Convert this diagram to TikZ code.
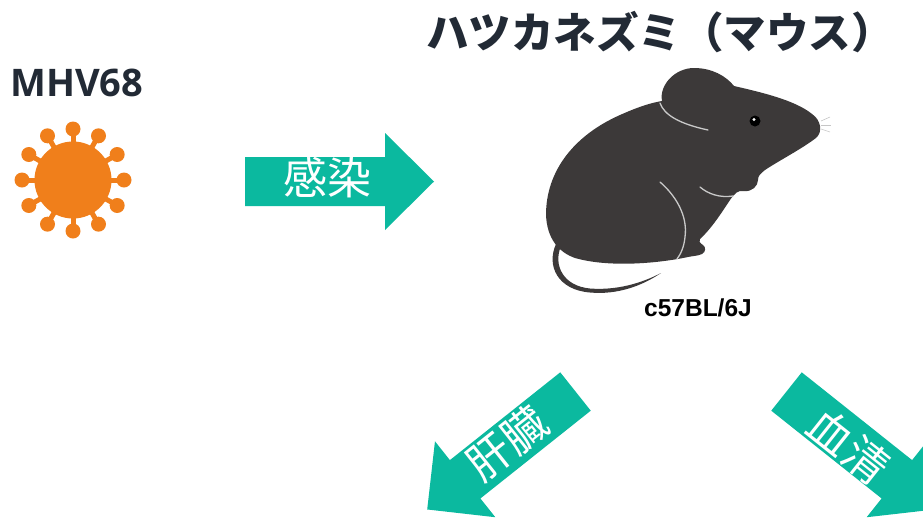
\documentclass[tikz,border=0pt]{standalone}
\usepackage{fontspec}
\setmainfont{Open Sans}
\newfontfamily\jpfont{Noto Sans CJK JP}
\newfontfamily\labelfont{Liberation Sans}
\definecolor{ink}{HTML}{222A35}
\definecolor{arrowteal}{HTML}{0BB99F}
\definecolor{virusorange}{HTML}{F07F1B}
\definecolor{fur}{HTML}{3C3939}
\definecolor{furline}{HTML}{C9C9C9}
\tikzset{
  blockarrow/.style={fill=arrowteal, draw=none},
  arrowlabel/.style={text=white, inner sep=0pt, font=\jpfont\fontsize{44}{44}\selectfont},
  furstroke/.style={draw=furline, line width=1.3pt, line cap=round},
}
\begin{document}
\begin{tikzpicture}[x=1pt,y=-1pt]
\useasboundingbox (0,0) rectangle (923,520);
\clip (0,0) rectangle (923,520);

% ---- headings ----
\node[font=\jpfont\bfseries\fontsize{42.5}{42.5}\selectfont, text=ink, inner sep=0pt] (title) at (660,32) {ハツカネズミ（マウス）};
\node[font=\bfseries\fontsize{38}{38}\selectfont, text=ink, inner sep=0pt, anchor=west] (virusname) at (10,83) {MHV68};

% ---- virus ----
\begin{scope}[shift={(73,180)}]
  \foreach \a in {0,30,...,330}{
    \draw[virusorange, line width=5pt] (\a:30) -- (\a:48);
    \fill[virusorange] (\a:51) circle (7.5);
  }
  \fill[virusorange] (0,0) circle (38.5);
\end{scope}
\coordinate (virus) at (73,180);

% ---- infection arrow ----
\fill[blockarrow] (245,157) -- (385,157) -- (385,133) -- (434,181.5)
  -- (385,230) -- (385,206) -- (245,206) -- cycle;
\node[arrowlabel] (infect) at (327.5,178) {感染};

% ---- mouse ----
% tail
\fill[fur] (556,244) .. controls (546,266) and (558,290) .. (590,292.5)
  .. controls (617,295) and (642,286) .. (661,273)
  .. controls (641,283.5) and (616,290.5) .. (590,288.5)
  .. controls (563,286) and (553,265) .. (561,246) -- cycle;
% body
\fill[fur] (662,101)
  .. controls (659,85) and (675,68) .. (694,68)
  .. controls (712,68) and (726,76) .. (734,86)
  .. controls (760,92) and (795,100) .. (812,114)
  .. controls (821,120) and (823,132) .. (816,138)
  .. controls (800,150) and (780,160) .. (765,170)
  .. controls (760,174) and (758,176) .. (758,180)
  .. controls (758,186) and (752,192) .. (744,191)
  .. controls (738,190) and (735,193) .. (730,200)
  .. controls (722,212) and (712,228) .. (700,239)
  .. controls (698,241) and (700,243) .. (703,245)
  .. controls (706,247) and (706,252) .. (702,254)
  .. controls (698,256) and (692,256) .. (688,257)
  .. controls (660,263) and (610,268) .. (575,258)
  .. controls (558,252) and (547,238) .. (546,215)
  .. controls (546,170) and (575,135) .. (620,115)
  .. controls (638,107) and (650,103) .. (662,101) -- cycle;
% fur lines
\draw[furstroke] (660,103) .. controls (664,115) and (680,124) .. (708,130);
\draw[furstroke] (660,182) .. controls (675,195) and (688,215) .. (685,237)
  .. controls (684,248) and (680,255) .. (677,259);
\draw[furstroke] (700,187) .. controls (708,194) and (720,198) .. (733,196);
% eye
\fill[black] (755,121) circle (5.5);
\fill[white] (754,119.5) circle (1.6);
% whiskers
\draw[gray!45, line width=0.6pt] (821,121) -- (830,117);
\draw[gray!45, line width=0.6pt] (821,125) -- (831,125);
\draw[gray!45, line width=0.6pt] (821,129) -- (830,132);
\node[font=\labelfont\bfseries\fontsize{24.5}{24.5}\selectfont, text=black, inner sep=0pt] (strain) at (698,308) {c57BL/6J};

% ---- sample arrows ----
\begin{scope}[shift={(575.5,391.5)}, rotate=218.5]
  \fill[blockarrow] (0,-24.5) -- (141,-24.5) -- (141,-48.5) -- (189.5,0)
    -- (141,48.5) -- (141,24.5) -- (0,24.5) -- cycle;
\end{scope}
\node[arrowlabel, rotate=38.5] (liver) at (507,443.5) {肝臓};

\begin{scope}[shift={(786.5,391.5)}, rotate=-38.5]
  \fill[blockarrow] (0,-24.5) -- (141,-24.5) -- (141,-48.5) -- (189.5,0)
    -- (141,48.5) -- (141,24.5) -- (0,24.5) -- cycle;
\end{scope}
\node[arrowlabel, rotate=-38.5] (serum) at (848.5,446) {血清};
\end{tikzpicture}
\end{document}
